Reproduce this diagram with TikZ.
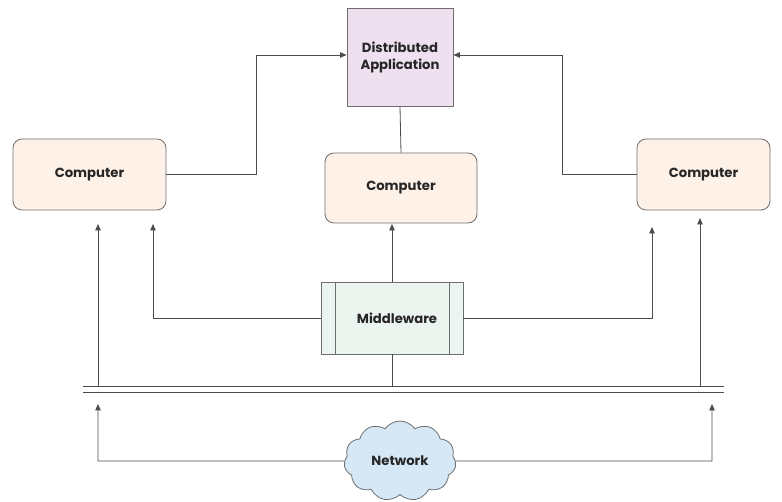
\documentclass[tikz,border=0pt]{standalone}
\usepackage{fontspec}
\setmainfont{Poppins}
\usetikzlibrary{shapes.symbols,arrows.meta}
\definecolor{dapurple}{RGB}{238,224,238}
\definecolor{comppeach}{RGB}{253,241,232}
\definecolor{midgreen}{RGB}{236,244,240}
\definecolor{netblue}{RGB}{214,232,246}
\definecolor{edgegray}{RGB}{110,110,110}
\begin{document}
\begin{tikzpicture}[x=1pt,y=-1pt,
  lbl/.style={font=\fontsize{13.2}{15}\selectfont\bfseries, text=black!85},
  compbox/.style={draw=edgegray, line width=0.8pt, fill=comppeach, rounded corners=9pt, minimum width=153pt, minimum height=71pt, lbl},
  conn/.style={draw=black!70, line width=0.8pt},
  arr/.style={conn, -{Triangle[length=6.5pt,width=5.5pt]}}]
\useasboundingbox (0,0) rectangle (782,502);
\node[draw=edgegray, line width=0.8pt, fill=dapurple, minimum width=106pt, minimum height=98pt, align=center, lbl] (da) at (400,57) {Distributed\\[2pt]Application};
\node[compbox] (cl) at (89.5,174.5) {Computer};
\node[compbox, minimum width=152pt, minimum height=70pt] (cc) at (401,188) {Computer};
\node[compbox, minimum width=133pt] (cr) at (703.5,174.5) {Computer};
\node[draw=edgegray, line width=0.8pt, fill=midgreen, minimum width=142pt, minimum height=72pt] (mw) at (392,318) {};
\draw[edgegray, line width=0.8pt] (335,282) -- (335,354) (449,282) -- (449,354);
\node[lbl] (mwt) at (397,318) {Middleware};
\node[cloud, cloud puffs=11, cloud puff arc=110, aspect=1.5, draw=edgegray, line width=0.8pt, fill=netblue, minimum width=112pt, minimum height=80pt, inner sep=0pt, lbl] (net) at (400,461) {Network};
% bus
\draw[black!70, line width=0.8pt] (83,386) -- (724,386) (83,392) -- (724,392);
% top arrows
\draw[arr] (cl.east) -- (256,174.5) -- (256,55) -- (da.west |- 0,55);
\draw[arr] (cr.west) -- (562,174.5) -- (562,55) -- (da.east |- 0,55);
\draw[conn] (da.south) -- (cc.north);
\draw[arr] (mw.north) -- (392,224);
\draw[arr] (mw.west) -- (153,318) -- (153,224);
\draw[arr] (mw.east) -- (652,318) -- (652,227);
\draw[conn] (mw.south) -- (392,386);
\draw[arr] (98,386) -- (98,224);
\draw[arr] (700,386) -- (700,218);
% network
\draw[arr] (net.west) -- (98,461) -- (98,404);
\draw[arr] (net.east) -- (712,461) -- (712,404);
\end{tikzpicture}
\end{document}
